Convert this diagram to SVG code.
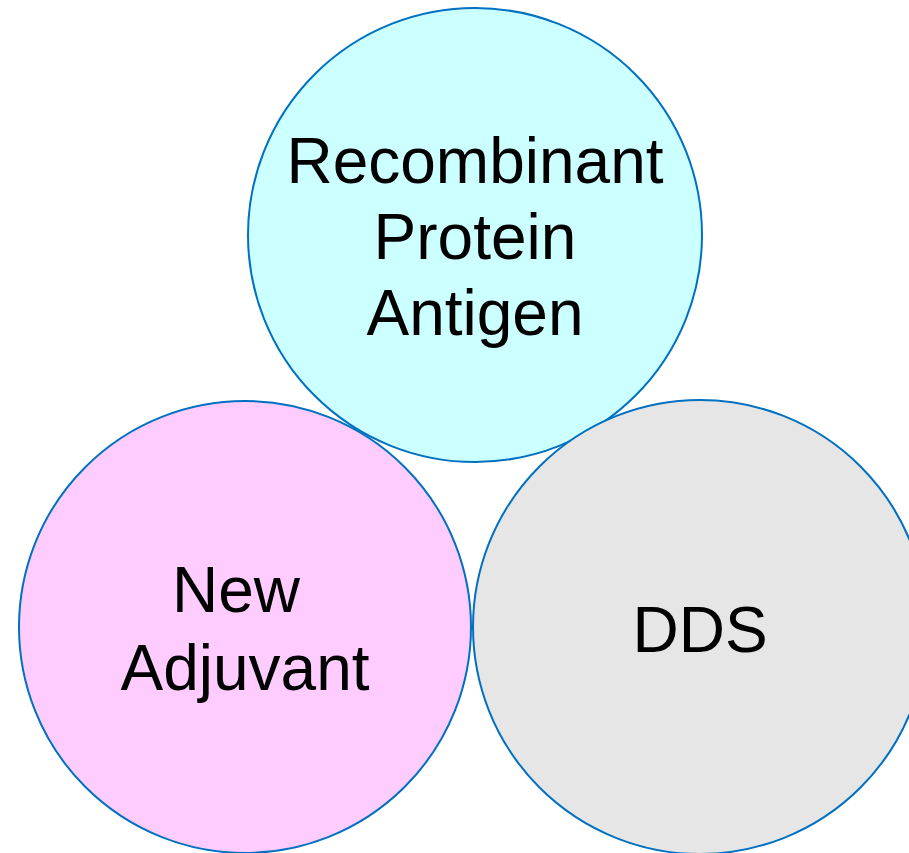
<svg xmlns="http://www.w3.org/2000/svg" width="909" height="853" viewBox="0 0 909 853">
  <style>
    .ring { stroke: #0070C0; stroke-width: 2; }
    .label { font-family: "Liberation Sans", Arial, sans-serif; font-size: 64px; fill: #000000; text-anchor: middle; }
  </style>
  <rect width="909" height="853" fill="#FFFFFF"/>
  <g id="antigen">
    <circle class="ring" cx="475" cy="235" r="227" fill="#CCFFFF"/>
    <text class="label" x="475" y="183">Recombinant</text>
    <text class="label" x="475" y="259">Protein</text>
    <text class="label" x="475" y="335">Antigen</text>
  </g>
  <g id="adjuvant">
    <circle class="ring" cx="245" cy="627" r="226" fill="#FFCCFF"/>
    <text class="label" x="236" y="612">New</text>
    <text class="label" x="245" y="690">Adjuvant</text>
  </g>
  <g id="dds">
    <circle class="ring" cx="700" cy="627" r="227" fill="#E6E6E6"/>
    <text class="label" x="700" y="652">DDS</text>
  </g>
  <g id="connectors"/>
</svg>
